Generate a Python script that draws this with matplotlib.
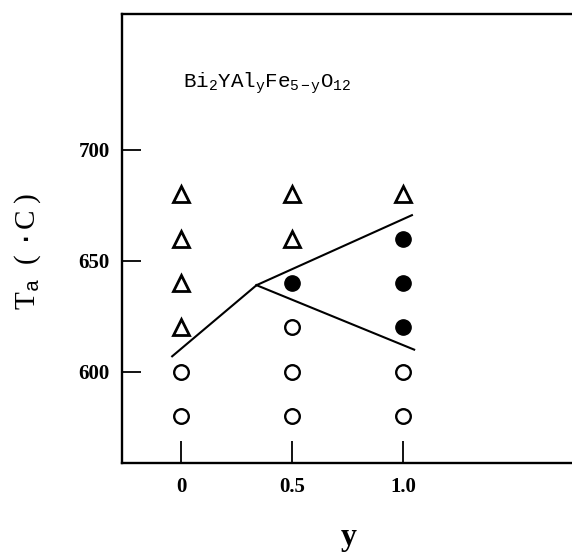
import matplotlib.pyplot as plt

plt.rcParams['font.family'] = 'Liberation Serif'
plt.rcParams['mathtext.fontset'] = 'custom'
plt.rcParams['mathtext.rm'] = 'Liberation Mono'
plt.rcParams['mathtext.it'] = 'Liberation Mono'

# Composition y and annealing temperature Ta (deg C) for each phase
tri_y = [0, 0, 0, 0, 0.5, 0.5, 1.0]
tri_T = [620, 640, 660, 680, 660, 680, 680]

filled_y = [0.5, 1.0, 1.0, 1.0]
filled_T = [640, 620, 640, 660]

open_y = [0, 0, 0.5, 0.5, 0.5, 1.0, 1.0]
open_T = [580, 600, 580, 600, 620, 580, 600]

# Phase boundary lines
left_y, left_T = [-0.04, 0.34], [607, 639]
upper_y, upper_T = [0.34, 1.04], [639, 670.5]
lower_y, lower_T = [0.34, 1.05], [639, 610]

x_ticks = [0, 0.5, 1.0]
x_tick_labels = ['0', '0.5', '1.0']
y_ticks = [600, 650, 700]

fig = plt.figure(figsize=(5.72, 5.55), dpi=100)
ax = fig.add_axes([122 / 572, 1 - 463 / 555, 450 / 572, 449 / 555])

for xs, ts in [(left_y, left_T), (upper_y, upper_T), (lower_y, lower_T)]:
    ax.plot(xs, ts, color='black', lw=1.5)

ax.plot(tri_y, tri_T, ls='none', marker='^', ms=12, mfc='white',
        mec='black', mew=2.0)
ax.plot(filled_y, filled_T, ls='none', marker='o', ms=11, mfc='black',
        mec='black')
ax.plot(open_y, open_T, ls='none', marker='o', ms=10.5, mfc='white',
        mec='black', mew=1.7)

ax.set_xlim(-0.266, 1.761)
ax.set_ylim(559, 761)
ax.spines['right'].set_visible(False)
for s in ['left', 'top', 'bottom']:
    ax.spines[s].set_linewidth(1.7)

ax.set_xticks(x_ticks)
ax.set_xticklabels(x_tick_labels, fontweight='bold')
ax.set_yticks(y_ticks)
for lab in ax.get_yticklabels():
    lab.set_fontweight('bold')
ax.tick_params(axis='x', direction='in', length=16, width=1.3, pad=10,
               labelsize=15)
ax.tick_params(axis='y', direction='in', length=14, width=1.3, pad=9,
               labelsize=15)

ax.text(0.01, 730, r'Bi$_2$YAl$_y$Fe$_{5-y}$O$_{12}$', family='Liberation Mono',
        fontsize=15, ha='left', va='center')

fig.text(28 / 572, 1 - 251 / 555, r'T$_{\rm a}$  ( $\bullet$C )',
         rotation=90, fontsize=21, ha='center', va='center')
fig.text(349 / 572, 1 - 538 / 555, 'y', fontsize=23, fontweight='bold',
         ha='center', va='center')

fig.savefig('out.png', dpi=100)
